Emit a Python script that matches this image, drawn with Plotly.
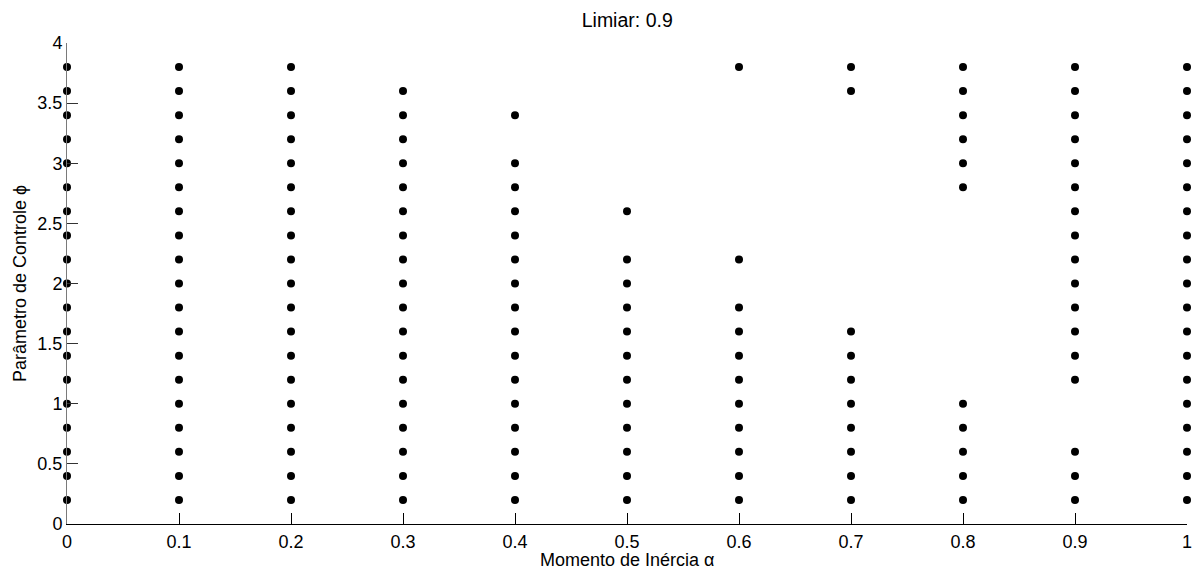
import plotly.graph_objects as go

# Momento de Inércia (alpha) columns and the Parâmetro de Controle (phi) values present in each
alpha_values = [0.0, 0.1, 0.2, 0.3, 0.4, 0.5, 0.6, 0.7, 0.8, 0.9, 1.0]

phi_a00 = [0.2, 0.4, 0.6, 0.8, 1.0, 1.2, 1.4, 1.6, 1.8, 2.0, 2.2, 2.4, 2.6, 2.8, 3.0, 3.2, 3.4, 3.6, 3.8]
phi_a01 = [0.2, 0.4, 0.6, 0.8, 1.0, 1.2, 1.4, 1.6, 1.8, 2.0, 2.2, 2.4, 2.6, 2.8, 3.0, 3.2, 3.4, 3.6, 3.8]
phi_a02 = [0.2, 0.4, 0.6, 0.8, 1.0, 1.2, 1.4, 1.6, 1.8, 2.0, 2.2, 2.4, 2.6, 2.8, 3.0, 3.2, 3.4, 3.6, 3.8]
phi_a03 = [0.2, 0.4, 0.6, 0.8, 1.0, 1.2, 1.4, 1.6, 1.8, 2.0, 2.2, 2.4, 2.6, 2.8, 3.0, 3.2, 3.4, 3.6]
phi_a04 = [0.2, 0.4, 0.6, 0.8, 1.0, 1.2, 1.4, 1.6, 1.8, 2.0, 2.2, 2.4, 2.6, 2.8, 3.0, 3.4]
phi_a05 = [0.2, 0.4, 0.6, 0.8, 1.0, 1.2, 1.4, 1.6, 1.8, 2.0, 2.2, 2.6]
phi_a06 = [0.2, 0.4, 0.6, 0.8, 1.0, 1.2, 1.4, 1.6, 1.8, 2.2, 3.8]
phi_a07 = [0.2, 0.4, 0.6, 0.8, 1.0, 1.2, 1.4, 1.6, 3.6, 3.8]
phi_a08 = [0.2, 0.4, 0.6, 0.8, 1.0, 2.8, 3.0, 3.2, 3.4, 3.6, 3.8]
phi_a09 = [0.2, 0.4, 0.6, 1.2, 1.4, 1.6, 1.8, 2.0, 2.2, 2.4, 2.6, 2.8, 3.0, 3.2, 3.4, 3.6, 3.8]
phi_a10 = [0.2, 0.4, 0.6, 0.8, 1.0, 1.2, 1.4, 1.6, 1.8, 2.0, 2.2, 2.4, 2.6, 2.8, 3.0, 3.2, 3.4, 3.6, 3.8]

phi_columns = [phi_a00, phi_a01, phi_a02, phi_a03, phi_a04, phi_a05,
               phi_a06, phi_a07, phi_a08, phi_a09, phi_a10]

x_ticks = [0, 0.1, 0.2, 0.3, 0.4, 0.5, 0.6, 0.7, 0.8, 0.9, 1]
x_tick_labels = ["0", "0.1", "0.2", "0.3", "0.4", "0.5", "0.6", "0.7", "0.8", "0.9", "1"]
y_ticks = [0, 0.5, 1, 1.5, 2, 2.5, 3, 3.5, 4]
y_tick_labels = ["0", "0.5", "1", "1.5", "2", "2.5", "3", "3.5", "4"]

xs, ys = [], []
for a, col in zip(alpha_values, phi_columns):
    xs.extend([a] * len(col))
    ys.extend(col)

FONT = "Liberation Sans, Arial, Helvetica, sans-serif"
FS = 18
FS_TITLE = 19.5

fig = go.Figure()
fig.add_trace(go.Scatter(
    x=xs, y=ys, mode="markers",
    marker=dict(symbol="circle", size=8, color="black", line=dict(width=0)),
    cliponaxis=False, showlegend=False, hoverinfo="skip",
))

fig.update_layout(
    width=1197, height=572,
    margin=dict(l=67, r=10, t=43, b=48, autoexpand=False),
    paper_bgcolor="white", plot_bgcolor="white",
    font=dict(family=FONT, size=FS, color="black"),
    title=dict(text="Limiar: 0.9", x=0.524, xanchor="center", y=0.965, yanchor="middle",
               font=dict(family=FONT, size=FS_TITLE, color="black")),
)

# x-axis title placed as a paper annotation for exact vertical position
fig.add_annotation(
    text="Momento de Inércia α", xref="paper", yref="paper",
    x=0.5, y=-0.075, xanchor="center", yanchor="middle",
    showarrow=False, font=dict(family=FONT, size=FS, color="black"),
)

fig.update_xaxes(
    range=[0, 1], tickvals=x_ticks, ticktext=x_tick_labels, automargin=False,
    showgrid=False, zeroline=False,
    showline=True, linecolor="black", linewidth=1,
    ticks="inside", ticklen=11, tickwidth=1, tickcolor="black",
    ticklabelstandoff=1,
    tickfont=dict(family=FONT, size=FS, color="black"),
)
fig.update_yaxes(
    range=[0, 4], tickvals=y_ticks, ticktext=y_tick_labels, automargin=False,
    showgrid=False, zeroline=False,
    showline=True, linecolor="#7a7a7a", linewidth=1,
    ticks="inside", ticklen=11, tickwidth=1, tickcolor="#333333",
    tickfont=dict(family=FONT, size=FS, color="black"),
    title=dict(text="Parâmetro de Controle ϕ", standoff=6,
               font=dict(family=FONT, size=FS, color="black")),
)

fig.write_html("out.html", config={"displayModeBar": False},
               post_script="document.body.style.margin='0';")
